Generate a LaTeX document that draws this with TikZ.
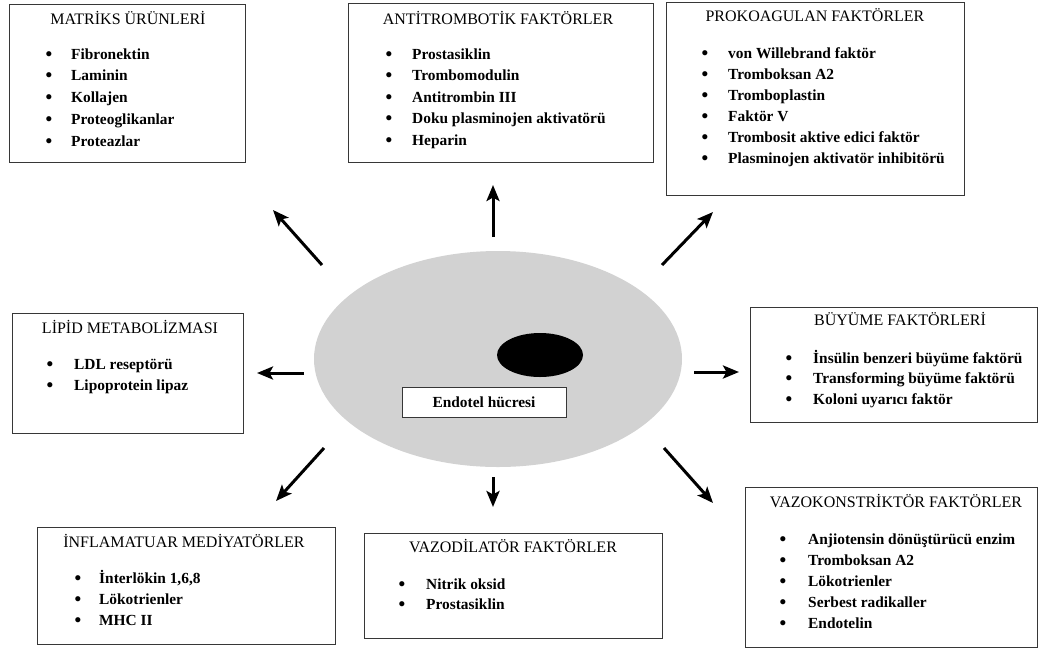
\documentclass[tikz,border=0pt]{standalone}
\usepackage{fontspec}
\setmainfont{Liberation Serif}
\usetikzlibrary{arrows.meta,shapes.geometric}

\definecolor{cellgray}{RGB}{210,210,210}
\definecolor{framegray}{RGB}{55,55,55}

\tikzset{
  panel/.style={draw=framegray, line width=1.1pt, fill=white, anchor=north west, inner sep=0pt},
  ttl/.style={font=\fontsize{16}{18}\selectfont, anchor=base, inner sep=0pt},
  itm/.style={font=\fontsize{15.4}{18}\selectfont\bfseries, anchor=base west, inner sep=0pt},
  bul/.style={font=\fontsize{19}{20}\selectfont\bfseries, anchor=base, inner sep=0pt},
  outarrow/.style={line width=3pt, -{Stealth[length=16pt,width=13pt,inset=3.5pt]}},
}

% one bullet list: name, bullet x, text x, first baseline, step, items
\newcommand\bulletlist[6]{%
  \foreach \t [count=\i from 1] in {#6} {%
    \node[bul] (#1-b\i) at (#2,{#4+#5*(\i-1)+1}) {•};
    \node[itm] (#1-\i) at (#3,{#4+#5*(\i-1)}) {\t};
  }%
}

\begin{document}
\begin{tikzpicture}[x=1pt,y=-1pt]
\useasboundingbox (0,0) rectangle (1038,649);

% the cell
\node[ellipse, fill=cellgray, minimum width=368pt, minimum height=216pt, inner sep=0pt] (cell) at (498,359) {};
\node[ellipse, fill=black, minimum width=86pt, minimum height=44pt, inner sep=0pt] (nucleus) at (540,355) {};
\node[draw=framegray, line width=1pt, fill=white, minimum width=164pt, minimum height=30pt, inner sep=0pt] (label) at (484,402) {};
\node[itm, anchor=base] (labeltext) at (484,407) {Endotel hücresi};

% matrix products
\node[panel, minimum width=236pt, minimum height=158pt] (matriks) at (9,4) {};
\node[ttl] (matriks-t) at (128,24) {MATRİKS ÜRÜNLERİ};
\bulletlist{matriks}{49}{71}{59}{21.75}{Fibronektin, Laminin, Kollajen, Proteoglikanlar, Proteazlar}

% antithrombotic factors
\node[panel, minimum width=305pt, minimum height=159pt] (anti) at (348,3) {};
\node[ttl] (anti-t) at (498,24) {ANTİTROMBOTİK FAKTÖRLER};
\bulletlist{anti}{389}{412}{59}{21.5}{Prostasiklin, Trombomodulin, Antitrombin III, Doku plasminojen aktivatörü, Heparin}

% procoagulant factors
\node[panel, minimum width=298pt, minimum height=193pt] (prok) at (666,2) {};
\node[ttl] (prok-t) at (815,21) {PROKOAGULAN FAKTÖRLER};
\bulletlist{prok}{705}{728}{58}{21}{von Willebrand faktör, Tromboksan A2, Tromboplastin, Faktör V, Trombosit aktive edici faktör, Plasminojen aktivatör inhibitörü}

% lipid metabolism
\node[panel, minimum width=231pt, minimum height=120pt] (lipid) at (12,313) {};
\node[ttl] (lipid-t) at (130,333) {LİPİD METABOLİZMASI};
\bulletlist{lipid}{50}{74}{369}{21}{LDL reseptörü, Lipoprotein lipaz}

% growth factors
\node[panel, minimum width=287pt, minimum height=115pt] (buyume) at (750,307) {};
\node[ttl] (buyume-t) at (900,325) {BÜYÜME FAKTÖRLERİ};
\bulletlist{buyume}{789}{813}{363}{20.5}{İnsülin benzeri büyüme faktörü, Transforming büyüme faktörü, Koloni uyarıcı faktör}

% inflammatory mediators
\node[panel, minimum width=298pt, minimum height=117pt] (inflam) at (37,527) {};
\node[ttl] (inflam-t) at (184,547) {İNFLAMATUAR MEDİYATÖRLER};
\bulletlist{inflam}{78}{99}{583}{21}{{İnterlökin 1,6,8}, Lökotrienler, MHC II}

% vasodilator factors
\node[panel, minimum width=298pt, minimum height=105pt] (vazod) at (364,533) {};
\node[ttl] (vazod-t) at (513,552) {VAZODİLATÖR FAKTÖRLER};
\bulletlist{vazod}{402}{426}{589}{20.5}{Nitrik oksid, Prostasiklin}

% vasoconstrictor factors
\node[panel, minimum width=292pt, minimum height=160pt] (vazok) at (745,487) {};
\node[ttl] (vazok-t) at (896,507) {VAZOKONSTRİKTÖR FAKTÖRLER};
\bulletlist{vazok}{783}{808}{544}{21.2}{Anjiotensin dönüştürücü enzim, Tromboksan A2, Lökotrienler, Serbest radikaller, Endotelin}

% arrow ends around the cell
\coordinate (up-s) at (493,237);  \coordinate (up-e) at (493,185);
\coordinate (ul-s) at (322,265);  \coordinate (ul-e) at (273,210);
\coordinate (ur-s) at (662,265);  \coordinate (ur-e) at (713,212);
\coordinate (l-s)  at (304,373);  \coordinate (l-e)  at (257,373);
\coordinate (r-s)  at (694,372);  \coordinate (r-e)  at (739,372);
\coordinate (dl-s) at (324,448);  \coordinate (dl-e) at (276,501);
\coordinate (d-s)  at (493,477);  \coordinate (d-e)  at (493,507);
\coordinate (dr-s) at (664,448);  \coordinate (dr-e) at (713,503);

\foreach \a in {up,ul,ur,l,r,dl,d,dr}
  \draw[outarrow] (\a-s) -- (\a-e);
\end{tikzpicture}
\end{document}
